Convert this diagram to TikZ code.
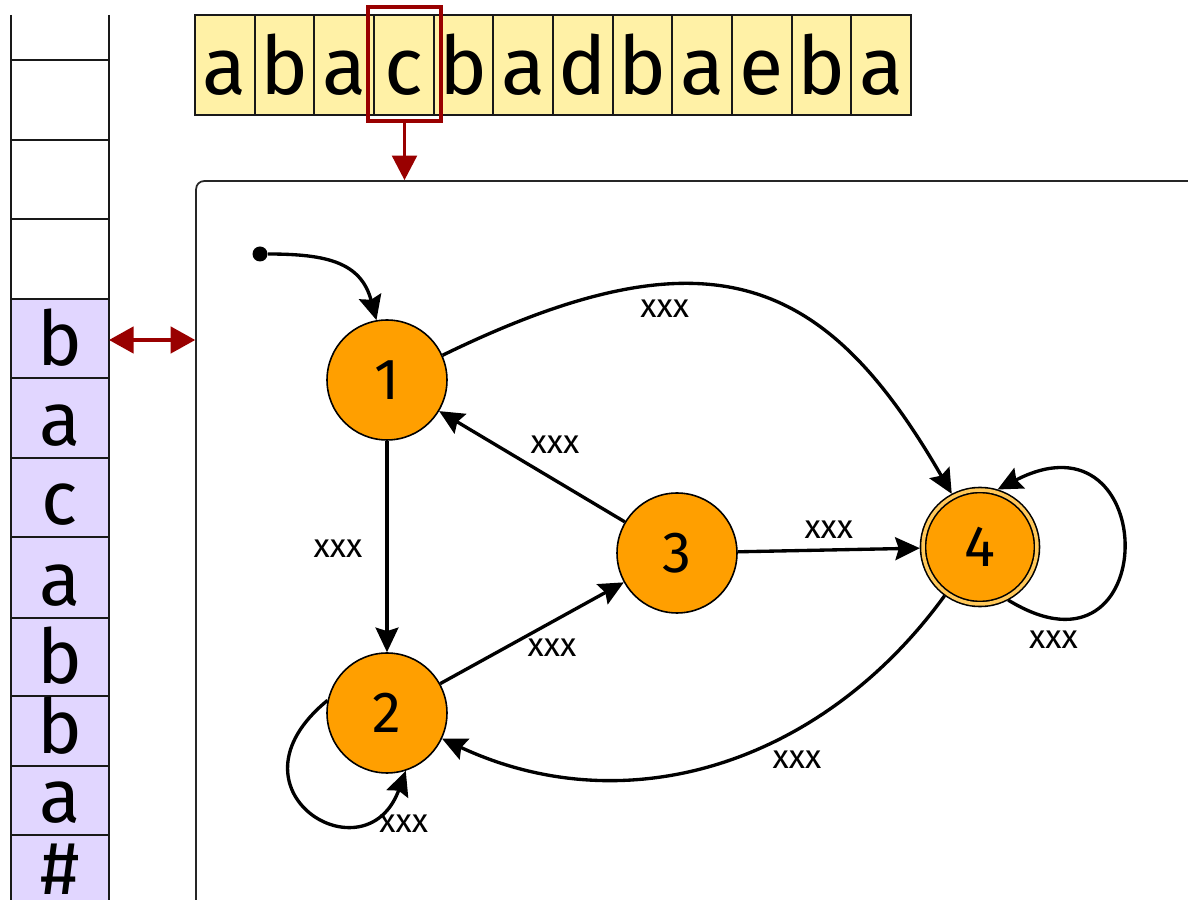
\documentclass[tikz,border=0pt]{standalone}
\usepackage{fontspec}
\setmainfont{Fira Sans}
\usetikzlibrary{arrows.meta}
\definecolor{stateorange}{RGB}{255,159,0}
\definecolor{ringorange}{RGB}{255,200,90}
\definecolor{tapeyellow}{RGB}{255,241,166}
\definecolor{stackpurple}{RGB}{225,214,255}
\definecolor{headred}{RGB}{153,0,0}
\tikzset{
  tapecell/.style={draw=black!90, line width=1pt, fill=tapeyellow, minimum width=1.1934cm, minimum height=2cm, inner sep=0pt},
  tapeletter/.style={anchor=base, inner sep=0pt, font=\fontsize{46}{46}\selectfont},
  stackletter/.style={anchor=base, inner sep=0pt, font=\fontsize{43}{43}\selectfont},
  cellline/.style={draw=black!90, line width=1pt},
  state/.style={circle, draw=black, line width=0.9pt, fill=stateorange, minimum size=2.4cm, inner sep=0pt, font=\fontsize{33}{33}\selectfont},
  finalstate/.style={state, minimum size=2.28cm, double=ringorange, double distance=2pt, outer sep=1.8pt},
  edge/.style={-{Stealth[length=14pt,width=13pt,inset=2pt]}, line width=1.9pt},
  lbl/.style={inner sep=0pt, font=\fontsize{19}{19}\selectfont},
  headarrow/.style={-{Triangle[length=14pt,width=14pt]}, draw=headred, line width=2pt},
  stackarrow/.style={{Triangle[length=14pt,width=15pt]}-{Triangle[length=14pt,width=15pt]}, draw=headred, line width=2pt},
}
\begin{document}
\begin{tikzpicture}[x=0.02cm,y=0.02cm]
\useasboundingbox (0,0) rectangle (1188,900);
\clip (0,0) rectangle (1188,900);

% stack
\fill[stackpurple] (11,-10) rectangle (109,601);
\foreach \y in {840,760,681,601,522,442,363,282,204,134,65} \draw[cellline] (11,\y) -- (109,\y);
\draw[cellline] (11,885) -- (11,-10);
\draw[cellline] (109,885) -- (109,-10);
\foreach \c/\y [count=\i] in {b/534,a/454,c/375,a/294,b/216,b/146,a/77,\#/5}
  \node[stackletter] (s\i) at (60,\y) {\c};

% tape
\foreach \c [count=\i] in {a,b,a,c,b,a,d,b,a,e,b,a} {
  \node[tapecell] (t\i) at ({195+59.67*(\i-0.5)},835) {};
  \node[tapeletter] (tl\i) at ({195+59.67*(\i-0.5)},805) {\c};
}
\node[draw=headred, line width=1.8pt, minimum width=1.46cm, minimum height=2.28cm, inner sep=0pt] (head) at (404.5,836) {};

% control box
\node[draw=black!85, line width=1pt, rounded corners=4.5pt, minimum width=21.28cm, minimum height=15.58cm, inner sep=0pt] (ctrl) at (728,329.5) {};

\draw[headarrow] (head.south) -- (head.south |- ctrl.north);
\coordinate (stk) at (109,560);
\draw[stackarrow] (stk) -- (stk -| ctrl.west);

% states
\node[state] (n1) at (387,520) {1};
\node[state] (n2) at (387,187) {2};
\node[state] (n3) at (677,347) {3};
\node[finalstate] (n4) at (980,353) {4};
\node[circle, fill=black, inner sep=0pt, minimum size=0.3cm] (init) at (260,646) {};

% transitions
\draw[edge] (init) to[out=0,in=105,looseness=1.2] (n1.100);
\draw[edge] (n1.24) .. controls +(26:300) and +(120:250) .. (n4.118) node[lbl, pos=0.33, shift={(0,-24)}] {xxx};
\draw[edge] (n1) -- node[lbl, shift={(-49,-2)}] {xxx} (n2);
\draw[edge] (n3) -- node[lbl, shift={(23,21.5)}] {xxx} (n1);
\draw[edge] (n2) -- node[lbl, shift={(20,-15)}] {xxx} (n3);
\draw[edge] (n3) -- node[lbl, shift={(0,20)}] {xxx} (n4);
\draw[edge] (n4.-62) .. controls +(155,-95) and +(165,85) .. (n4.73) node[lbl, pos=0.15, shift={(-14,-20)}] {xxx};
\draw[edge] (n4.-126) .. controls +(-126:206) and +(-25:206) .. (n2.-25) node[lbl, pos=0.35, shift={(3,-29)}] {xxx};
\draw[edge] (n2.168) .. controls +(-110,-90) and +(-40,-110) .. (n2.-72) node[lbl, pos=0.85, shift={(22,-16)}] {xxx};
\end{tikzpicture}
\end{document}
